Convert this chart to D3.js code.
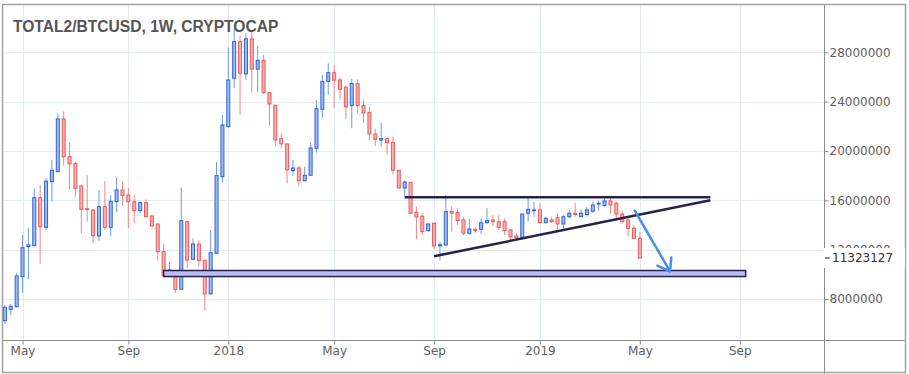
<!DOCTYPE html>
<html>
<head>
<meta charset="utf-8">
<script src="https://cdn.jsdelivr.net/npm/d3@7"></script>
<style>
  body { margin: 0; background: #fff; }
</style>
</head>
<body>
<div id="chart"></div>
<script>
// weekly candles, values in millions, one entry per week starting at firstWeek
const firstWeek = "2017-04-10"

const opens = [
  6.24, 7.16, 7.38, 9.81, 12.24, 12.32, 16.22, 13.81, 17.51, 18.32,
  22.60, 19.54, 18.97, 17.16, 15.32, 15.22, 13.11, 15.49, 13.81, 15.89,
  16.84, 16.43, 15.89, 15.16, 15.81, 14.73, 14.08, 11.84, 9.89, 9.89,
  8.79, 14.27, 11.22, 12.46, 11.14, 8.41, 11.71, 17.92,
  21.97, 25.90, 28.87, 26.25, 29.09, 26.63, 27.34, 24.73, 23.71, 21.00,
  20.57, 18.41, 18.62, 17.59, 18.03, 20.22, 23.38, 25.64, 26.35, 25.76,
  25.17, 23.68, 25.46, 23.68, 23.11, 21.38, 20.89, 21.00, 20.68, 18.44,
  17.00, 17.46, 15.03, 14.71, 13.54, 14.14, 12.31, 12.38, 15.10, 15.00,
  14.41, 13.33, 13.65, 13.65, 14.19, 14.41, 14.27, 14.27, 13.60, 13.11,
  12.92, 14.95, 15.16, 15.22, 14.19, 14.41, 14.59, 14.08, 14.67, 14.95,
  14.67, 14.85, 15.12, 15.70, 15.57, 15.95, 15.76, 14.89, 14.41, 13.73, 12.92
]
const highs = [
  7.51, 7.59, 10.13, 13.19, 13.78, 16.95, 17.25, 17.81, 19.27, 23.06,
  23.22, 20.68, 19.13, 17.25, 18.06, 15.25, 16.84, 17.57, 16.43, 17.87,
  17.55, 17.03, 16.43, 15.89, 16.09, 14.81, 14.10, 12.46, 11.03, 10.35,
  17.06, 14.35, 12.92, 12.78, 11.14, 13.60, 19.09, 22.92,
  28.40, 29.95, 29.37, 29.55, 29.70, 28.52, 27.79, 24.75, 23.72, 21.38,
  20.60, 19.27, 18.79, 18.73, 20.68, 24.14, 26.17, 27.10, 26.98, 25.98,
  25.31, 25.86, 25.82, 24.16, 23.60, 21.80, 22.31, 21.02, 21.18, 18.46,
  17.59, 17.47, 15.50, 14.95, 14.14, 14.20, 12.62, 16.43, 15.50, 15.36,
  14.67, 14.54, 13.81, 14.54, 15.36, 14.81, 14.81, 14.54, 13.60, 13.33,
  14.90, 16.30, 15.89, 15.76, 14.67, 14.67, 14.95, 14.81, 15.22, 15.81,
  15.27, 15.46, 15.89, 15.97, 16.17, 16.17, 15.89, 15.16, 14.67, 14.00, 13.46
]
const lows = [
  5.97, 6.70, 7.30, 8.51, 9.60, 12.30, 10.84, 13.60, 15.89, 18.30,
  18.81, 16.90, 16.30, 13.33, 14.27, 12.52, 12.73, 13.60, 13.11, 15.03,
  15.54, 13.73, 14.14, 14.95, 14.63, 13.86, 11.11, 9.85, 9.81, 8.51,
  8.75, 10.49, 11.16, 10.62, 7.05, 8.40, 11.70, 17.43,
  21.90, 25.11, 22.92, 25.76, 24.73, 24.81, 24.63, 22.03, 20.41, 20.22,
  17.38, 17.98, 17.16, 17.51, 17.98, 19.86, 22.65, 24.54, 23.47, 24.18,
  22.57, 21.84, 23.06, 22.25, 20.89, 20.38, 20.37, 19.72, 18.10, 16.98,
  16.30, 14.93, 12.84, 13.19, 13.46, 12.03, 11.12, 12.31, 13.46, 14.00,
  13.19, 13.19, 13.38, 13.27, 14.08, 13.92, 13.60, 13.19, 12.65, 12.73,
  12.84, 14.27, 14.67, 14.14, 14.14, 14.14, 13.60, 13.73, 14.54, 14.67,
  14.63, 14.67, 15.00, 15.16, 15.49, 14.89, 14.41, 14.14, 13.05, 12.84, 11.30
]
const closes = [
  7.33, 7.41, 9.87, 12.16, 12.38, 16.22, 13.86, 17.55, 18.44, 22.60,
  19.54, 18.95, 16.98, 15.27, 15.27, 13.13, 15.49, 13.81, 15.92, 16.84,
  16.38, 15.89, 15.16, 15.81, 14.67, 13.92, 11.84, 9.89, 10.35, 8.79,
  14.35, 11.16, 12.46, 11.11, 8.41, 11.75, 18.00, 22.11,
  25.76, 28.87, 26.30, 29.09, 26.63, 27.34, 24.73, 23.81, 20.89, 20.57,
  18.46, 18.62, 17.59, 18.03, 20.25, 23.43, 25.64, 26.35, 25.74, 25.01,
  23.57, 25.46, 23.68, 23.08, 21.38, 20.95, 21.00, 20.68, 18.44, 17.00,
  17.49, 14.95, 14.65, 13.46, 14.08, 12.30, 12.40, 15.08, 14.97, 14.35,
  13.33, 13.68, 13.54, 14.19, 14.35, 14.27, 13.81, 13.54, 13.05, 12.97,
  14.89, 15.27, 15.22, 14.19, 14.54, 14.27, 14.08, 14.67, 14.95, 14.85,
  14.95, 15.22, 15.62, 15.76, 15.95, 15.62, 14.89, 14.27, 13.73, 12.92, 11.323127
]

const yTicks = [8, 12, 16, 20, 24, 28]
const xTickDates = ["2017-05-01", "2017-09-04", "2018-01-01", "2018-05-07", "2018-09-03", "2019-01-07", "2019-05-06", "2019-09-02"]
const xTickLabels = ["May", "Sep", "2018", "May", "Sep", "2019", "May", "Sep"]
const lastPrice = 11.323127
const title = "TOTAL2/BTCUSD, 1W, CRYPTOCAP"

// hand drawn annotations (date, value in millions)
const zone = {start: "2017-10-16", end: "2019-09-09", top: 10.31, bottom: 9.82}
const resistance = [["2018-07-30", 16.25], ["2019-07-29", 16.25]]
const trendLine = [["2018-09-03", 11.46], ["2019-07-29", 16.0]]
const arrowLine = [["2019-04-30", 15.16], ["2019-06-11", 10.23]]

function drawChart() {
  const parse = d3.timeParse("%Y-%m-%d")
  const fullWidth = 909
  const fullHeight = 374
  const margin = {top: 5, left: 3}
  const width = 821
  const height = 336

  const svg = d3.select("#chart")
    .append("svg")
    .attr("width", fullWidth)
    .attr("height", fullHeight)
    .style("display", "block")

  const g = svg.append("g")
    .attr("transform", `translate(${margin.left}, ${margin.top})`)

  // scales
  const xScale = d3.scaleTime()
    .domain([parse("2018-01-01"), parse("2019-01-07")])
    .range([225.3, 536.9])

  const yScale = d3.scaleLinear()
    .domain([8, 28])
    .range([294, 47.3])

  const start = parse(firstWeek)
  const candles = opens.map((o, i) => ({
    date: d3.timeMonday.offset(start, i),
    open: o, high: highs[i], low: lows[i], close: closes[i]
  }))

  // grid
  const tickDates = xTickDates.map(parse)
  g.append("g").selectAll("line")
    .data(tickDates)
    .join("line")
    .attr("x1", d => Math.round(xScale(d)) + 0.5)
    .attr("x2", d => Math.round(xScale(d)) + 0.5)
    .attr("y1", 0)
    .attr("y2", height)
    .attr("stroke", "#e4ecf3")

  g.append("g").selectAll("line")
    .data(yTicks)
    .join("line")
    .attr("x1", 0)
    .attr("x2", width)
    .attr("y1", d => Math.round(yScale(d)) + 0.5)
    .attr("y2", d => Math.round(yScale(d)) + 0.5)
    .attr("stroke", "#e4ecf3")

  // clip for the plot area
  svg.append("defs").append("clipPath")
    .attr("id", "plot-clip")
    .append("rect")
    .attr("width", width)
    .attr("height", height)

  const plot = g.append("g").attr("clip-path", "url(#plot-clip)")

  // candles
  const up = {stroke: "#2d62d6", fill: "#a2bcf0", wick: "#6f98ea"}
  const down = {stroke: "#ee5a5a", fill: "#f6b0b0", wick: "#f28686"}
  const col = d => d.close >= d.open ? up : down

  plot.append("g").selectAll("line")
    .data(candles)
    .join("line")
    .attr("x1", d => xScale(d.date))
    .attr("x2", d => xScale(d.date))
    .attr("y1", d => yScale(d.high))
    .attr("y2", d => yScale(d.low))
    .attr("stroke", d => col(d).wick)
    .attr("stroke-width", 1)

  plot.append("g").selectAll("rect")
    .data(candles)
    .join("rect")
    .attr("x", d => xScale(d.date) - 1.5)
    .attr("width", 3)
    .attr("y", d => yScale(Math.max(d.open, d.close)))
    .attr("height", d => Math.max(0.8, Math.abs(yScale(d.open) - yScale(d.close))))
    .attr("fill", d => col(d).fill)
    .attr("stroke", d => col(d).stroke)
    .attr("stroke-width", 1)

  // support zone
  plot.append("rect")
    .attr("x", xScale(parse(zone.start)))
    .attr("width", xScale(parse(zone.end)) - xScale(parse(zone.start)))
    .attr("y", yScale(zone.top))
    .attr("height", yScale(zone.bottom) - yScale(zone.top))
    .attr("fill", "#bcbcf4")
    .attr("stroke", "#26224c")
    .attr("stroke-width", 1.5)

  const line = d3.line()
    .x(d => xScale(parse(d[0])))
    .y(d => yScale(d[1]))

  plot.append("path")
    .datum(resistance)
    .attr("d", line)
    .attr("fill", "none")
    .attr("stroke", "#26224c")
    .attr("stroke-width", 2.5)

  plot.append("path")
    .datum(trendLine)
    .attr("d", line)
    .attr("fill", "none")
    .attr("stroke", "#26224c")
    .attr("stroke-width", 2.5)

  // arrow
  const a0 = [xScale(parse(arrowLine[0][0])), yScale(arrowLine[0][1])]
  const a1 = [xScale(parse(arrowLine[1][0])), yScale(arrowLine[1][1])]
  const back = Math.atan2(a0[1] - a1[1], a0[0] - a1[0])
  const headLen = 14
  const spread = 35 * Math.PI / 180
  const h1 = [a1[0] + headLen * Math.cos(back - spread), a1[1] + headLen * Math.sin(back - spread)]
  const h2 = [a1[0] + headLen * Math.cos(back + spread), a1[1] + headLen * Math.sin(back + spread)]
  plot.append("path")
    .attr("d", `M${a0}L${a1}M${h1}L${a1}L${h2}`)
    .attr("fill", "none")
    .attr("stroke", "#4a8ee6")
    .attr("stroke-width", 2.5)
    .attr("stroke-linecap", "round")
    .attr("stroke-linejoin", "round")

  // title
  g.append("text")
    .attr("x", 10)
    .attr("y", 26.7)
    .attr("font-family", "Liberation Sans, Arial, sans-serif")
    .attr("font-size", "15.6px")
    .attr("font-weight", "bold")
    .attr("fill", "#555")
    .text(title)

  // axes
  const yAxis = d3.axisRight(yScale)
    .tickValues(yTicks)
    .tickSize(4)
    .tickPadding(1)
    .tickFormat(d => d3.format("d")(d * 1e6))

  const yAxisG = g.append("g")
    .attr("transform", `translate(${width + 0.5}, 0)`)
    .call(yAxis)
  yAxisG.select(".domain").remove()
  yAxisG.selectAll("line").attr("stroke", "#8a8a8a")
  yAxisG.selectAll("text")
    .attr("font-family", "DejaVu Sans, sans-serif")
    .attr("font-size", "12px")
    .attr("fill", "#5e5e5e")

  const xAxis = d3.axisBottom(xScale)
    .tickValues(tickDates)
    .tickSize(4)
    .tickPadding(2)
    .tickFormat((d, i) => xTickLabels[i])

  const xAxisG = g.append("g")
    .attr("transform", `translate(0, ${height - 0.5})`)
    .call(xAxis)
  xAxisG.select(".domain").remove()
  xAxisG.selectAll("line").attr("stroke", "#8a8a8a")
  xAxisG.selectAll("text")
    .attr("font-family", "DejaVu Sans, sans-serif")
    .attr("font-size", "12px")
    .attr("fill", "#5e5e5e")

  // separators and frame
  svg.append("line")
    .attr("x1", margin.left + width + 0.5).attr("x2", margin.left + width + 0.5)
    .attr("y1", margin.top).attr("y2", fullHeight)
    .attr("stroke", "#8c8c8c")
  svg.append("line")
    .attr("x1", margin.left).attr("x2", 905)
    .attr("y1", margin.top + height - 0.5).attr("y2", margin.top + height - 0.5)
    .attr("stroke", "#8c8c8c")
  svg.append("rect")
    .attr("x", 2.5).attr("y", 4.5)
    .attr("width", 903).attr("height", 368)
    .attr("fill", "none")
    .attr("stroke", "#a2a2a2")
    .attr("stroke-width", 1.5)

  // last price label, drawn over the axis like the original
  const ly = margin.top + yScale(lastPrice)
  const lx = margin.left + width
  svg.append("rect")
    .attr("x", lx - 1).attr("y", ly - 10)
    .attr("width", 82).attr("height", 20)
    .attr("fill", "#fff")
  svg.append("line")
    .attr("x1", lx + 1).attr("x2", lx + 5.5)
    .attr("y1", ly).attr("y2", ly)
    .attr("stroke", "#333")
    .attr("stroke-width", 1.2)
  svg.append("text")
    .attr("x", lx + 8)
    .attr("y", ly)
    .attr("dy", "0.36em")
    .attr("font-family", "DejaVu Sans, sans-serif")
    .attr("font-size", "12px")
    .attr("fill", "#333")
    .text(d3.format("d")(Math.round(lastPrice * 1e6)))
}

drawChart()
</script>
</body>
</html>
